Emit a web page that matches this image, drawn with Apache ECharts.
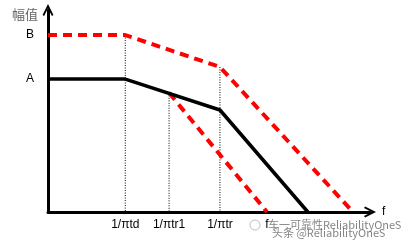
<!DOCTYPE html>
<html><head><meta charset="utf-8">
<script src="https://cdn.jsdelivr.net/npm/echarts@6/dist/echarts.min.js"></script>
<style>html,body{margin:0;padding:0;background:#fff}#c{width:402px;height:245px}</style>
</head><body><div id="c"></div>
<script>
// x values in arbitrary frequency units, y values in arbitrary amplitude units
var xTickValues = [24, 37.6, 53.4, 68];
var xTickLabels = ['1/\u03C0td', '1/\u03C0tr1', '1/\u03C0tr', 'f'];
var yTickValues = [65.8, 87.6];
var yTickLabels = ['A', 'B'];
var blackLine = [[0, 65.8], [24, 65.8], [53.4, 50.5], [80.7, 0]];
var redUpper = [[0, 87.6], [24, 87.6], [53.4, 71.8], [94.7, 0]];
var redLower = [[37.6, 59], [68, 0]];
var dropLines = [
  [[24, 87.6], [24, 0]],
  [[37.6, 59], [37.6, 0]],
  [[53.4, 71.8], [53.4, 0]]
];
var yName = '幅值';
var xName = 'f';

var chart = echarts.init(document.getElementById('c'), null, {renderer: 'canvas'});
var font = 'Liberation Sans';
var chevron = 'path://M0,10L5,0L10,10L8.6,11L5,4L1.4,11Z';
var series = [];
dropLines.forEach(function (d) {
  series.push({type: 'line', data: d, symbol: 'none', silent: true,
    lineStyle: {color: '#000', width: 1, type: [1, 1.5]}, z: 1});
});
series.push({type: 'line', data: blackLine, symbol: 'none',
  lineStyle: {color: '#000', width: 3.5}, z: 3});
series.push({type: 'line', data: redUpper, symbol: 'none',
  lineStyle: {color: '#ff0000', width: 4, type: [9, 6]}, z: 2});
series.push({type: 'line', data: redLower, symbol: 'none',
  lineStyle: {color: '#ff0000', width: 4, type: [9, 6]}, z: 2});

chart.setOption({
  animation: false,
  grid: {left: 48, right: 32, top: 10, bottom: 33, containLabel: false},
  xAxis: {
    type: 'value', min: 0, max: 100,
    name: xName, nameLocation: 'end', nameGap: 12,
    nameTextStyle: {fontFamily: font, fontSize: 12, color: '#000', verticalAlign: 'middle'},
    axisLine: {show: true, lineStyle: {color: '#000', width: 3}, symbol: ['none', chevron], symbolSize: [12, 12]},
    axisTick: {show: false},
    splitLine: {show: false},
    axisLabel: {
      customValues: xTickValues,
      formatter: function (v) { var i = xTickValues.indexOf(v); return i >= 0 ? xTickLabels[i] : ''; },
      fontFamily: font, fontSize: 12, color: '#000', margin: 7
    }
  },
  yAxis: {
    type: 'value', min: 0, max: 100,
    name: yName, nameLocation: 'end', nameGap: 2,
    nameTextStyle: {fontFamily: 'Noto Sans CJK SC', fontSize: 13, color: '#666', align: 'right', verticalAlign: 'top', lineHeight: 13, padding: [0, 10, 0, 0]},
    axisLine: {show: true, lineStyle: {color: '#000', width: 3}, symbol: ['none', chevron], symbolSize: [12, 12]},
    axisTick: {show: false},
    splitLine: {show: false},
    axisLabel: {
      customValues: yTickValues,
      formatter: function (v) { var i = yTickValues.indexOf(v); return i >= 0 ? yTickLabels[i] : ''; },
      fontFamily: font, fontSize: 12, color: '#000', margin: 14
    }
  },
  graphic: [
    {type: 'text', left: 268, top: 219, z: 10, style: {text: '车一可靠性ReliabilityOneS', fontFamily: 'Noto Sans CJK SC', fontSize: 11, fill: 'rgba(90,90,90,0.75)'}},
    {type: 'text', left: 272, top: 227, z: 10, style: {text: '头条 @ReliabilityOneS', fontFamily: 'Noto Sans CJK SC', fontSize: 11, fill: 'rgba(90,90,90,0.75)'}},
    {type: 'circle', shape: {cx: 255, cy: 225, r: 5}, z: 10, style: {fill: 'none', stroke: 'rgba(150,150,150,0.6)', lineWidth: 1}}
  ],
  series: series
});
</script></body></html>
